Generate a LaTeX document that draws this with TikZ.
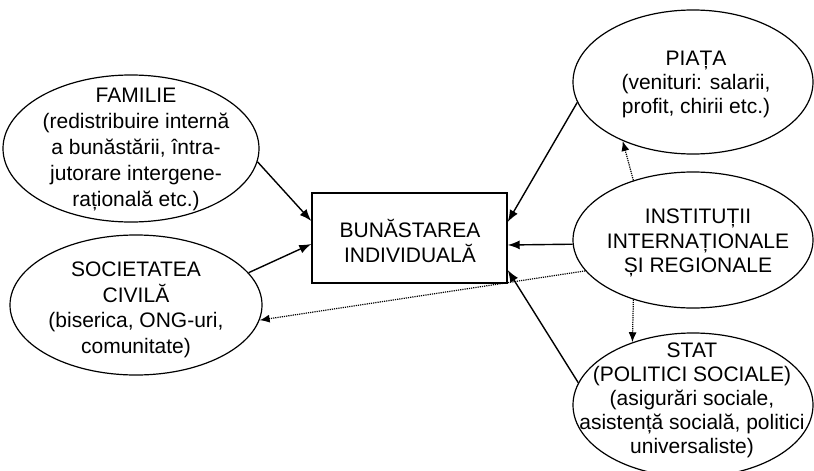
\documentclass[tikz,border=0pt]{standalone}
\usepackage{fontspec}
\setmainfont{Liberation Sans}
\usetikzlibrary{arrows.meta,shapes.geometric}
\tikzset{
  oval/.style={draw, line width=1.2pt, ellipse, inner sep=0pt},
  boxnode/.style={draw, line width=1.4pt, rectangle, inner sep=0pt},
  txt/.style={align=center, inner sep=0pt, font=\fontsize{21}{25}\selectfont},
  conn/.style={line width=1.4pt, -{Latex[length=12pt,width=9pt]}},
  dconn/.style={line width=1.2pt, densely dotted, -{Latex[length=10pt,width=8pt]}},
}
\begin{document}
\begin{tikzpicture}[x=1pt,y=-1pt]
\useasboundingbox (0,0) rectangle (814,471);
% shapes
\node[oval, minimum width=256pt, minimum height=147pt] (fam) at (131,148.5) {};
\node[oval, minimum width=252pt, minimum height=140pt] (soc) at (136,305) {};
\node[boxnode, minimum width=195pt, minimum height=90pt] (box) at (409.5,238) {};
\node[oval, minimum width=240pt, minimum height=144pt] (pia) at (693,82) {};
\node[oval, minimum width=240pt, minimum height=136pt] (ins) at (693,240) {};
\node[oval, minimum width=240pt, minimum height=144pt] (stat) at (693,405) {};
% texts
\node[txt, font=\fontsize{21}{26}\selectfont] (famt) at (136,149) {FAMILIE\\(redistribuire internă\\a bunăstării, întra-\\jutorare intergene-\\rațională etc.)};
\node[txt, font=\fontsize{21}{25.5}\selectfont] (soct) at (136,310) {SOCIETATEA\\CIVILĂ\\(biserica, ONG-uri,\\comunitate)};
\node[txt] (boxt) at (410,240.5) {BUNĂSTAREA\\INDIVIDUALĂ};
\node[txt, font=\fontsize{21}{24}\selectfont] (piat) at (696,84) {PIAȚA\\(venituri: salarii,\\profit, chirii etc.)};
\node[txt, font=\fontsize{21}{24.5}\selectfont] (inst) at (698,243) {INSTITUȚII\\INTERNAȚIONALE\\ȘI REGIONALE};
\node[txt, font=\fontsize{21}{24}\selectfont] (statt) at (692,400) {STAT\\(POLITICI SOCIALE)\\(asigurări sociale,\\asistență socială, politici\\universaliste)};
% connectors
\draw[conn] (fam.-6.6) -- ([yshift=17pt]box.west);
\draw[conn] (soc.16.6) -- ([yshift=-6pt]box.west);
\draw[conn] (pia.190.6) -- ([yshift=16pt]box.east);
\draw[conn] (ins.182) -- ([yshift=-7pt]box.east);
\draw[conn] (stat.169) -- ([yshift=-32pt]box.east);
\draw[dconn] (ins.196.6) -- (soc.-7);
\draw[dconn] (ins.135.5) -- (pia.220);
\draw[dconn] (ins.225) -- (stat.134);
\end{tikzpicture}
\end{document}
